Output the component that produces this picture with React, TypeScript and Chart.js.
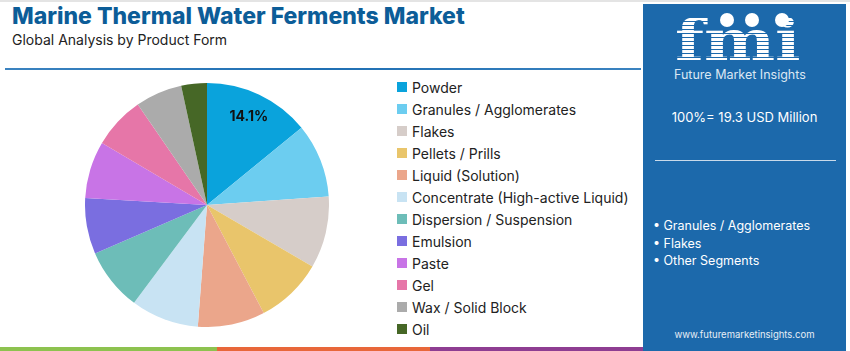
import React, { useEffect, useRef } from "react";
import { Chart, registerables } from "chart.js";

Chart.register(...registerables);

const categories = [
  "Powder",
  "Granules / Agglomerates",
  "Flakes",
  "Pellets / Prills",
  "Liquid (Solution)",
  "Concentrate (High-active Liquid)",
  "Dispersion / Suspension",
  "Emulsion",
  "Paste",
  "Gel",
  "Wax / Solid Block",
  "Oil",
];
const shares = [14.1, 9.8, 9.5, 8.9, 8.9, 9.0, 8.3, 7.4, 7.6, 6.9, 6.2, 3.4];
const colors = [
  "#0aa3dc",
  "#6ccdf0",
  "#d6cdc9",
  "#e9c56b",
  "#eba68b",
  "#c8e3f3",
  "#6dbdb8",
  "#7a6ee0",
  "#c874e6",
  "#e676a8",
  "#ababab",
  "#466726",
];
const labelledIndex = [0];
const bullets = ["Granules / Agglomerates", "Flakes", "Other Segments"];
const totalText = "100%= 19.3 USD Million";

const FONT = "Inter, 'Noto Sans', sans-serif";

const labelPlugin = {
  id: "sliceLabel",
  afterDatasetsDraw(chart: any) {
    const ctx = chart.ctx;
    const meta = chart.getDatasetMeta(0);
    labelledIndex.forEach((i) => {
      const arc = meta.data[i];
      const mid = (arc.startAngle + arc.endAngle) / 2;
      const r = arc.outerRadius * 0.8;
      const x = arc.x + Math.cos(mid) * r;
      const y = arc.y + Math.sin(mid) * r;
      ctx.save();
      ctx.fillStyle = "#111";
      ctx.font = `bold 14px ${FONT}`;
      ctx.textAlign = "center";
      ctx.textBaseline = "middle";
      ctx.fillText(shares[i].toFixed(1) + "%", x, y);
      ctx.restore();
    });
  },
};

export default function App() {
  const ref = useRef<HTMLCanvasElement>(null);
  useEffect(() => {
    if (!ref.current) return;
    const chart = new Chart(ref.current, {
      type: "pie",
      data: {
        labels: categories,
        datasets: [
          {
            data: shares,
            backgroundColor: colors,
            borderWidth: 0,
          },
        ],
      },
      options: {
        animation: false,
        responsive: false,
        maintainAspectRatio: false,
        layout: { padding: 0 },
        plugins: {
          legend: { display: false },
          tooltip: { enabled: false },
        },
      },
      plugins: [labelPlugin],
    });
    return () => chart.destroy();
  }, []);

  return (
    <div
      style={{
        position: "fixed",
        left: 0,
        top: 0,
        width: 850,
        height: 351,
        background: "#fff",
        overflow: "hidden",
        fontFamily: FONT,
      }}
    >
      <div style={{ position: "absolute", left: 0, top: 0, width: 850, height: 2, background: "#e4e4e4" }} />
      <div
        style={{
          position: "absolute",
          left: 12,
          top: 2,
          fontSize: 23,
          fontWeight: 800,
          color: "#0c5d98",
          whiteSpace: "nowrap",
        }}
      >
        Marine Thermal Water Ferments Market
      </div>
      <div style={{ position: "absolute", left: 12, top: 31, fontSize: 14, color: "#222", whiteSpace: "nowrap" }}>
        Global Analysis by Product Form
      </div>
      <div
        style={{
          position: "absolute",
          left: 5,
          top: 68,
          width: 636,
          height: 2,
          background: "linear-gradient(90deg,#3b83c0,#1f6fb3 50%,#3b83c0)",
        }}
      />
      <canvas ref={ref} width={244} height={244} style={{ position: "absolute", left: 85, top: 83, width: 244, height: 244 }} />
      <div style={{ position: "absolute", left: 397, top: 76 }}>
        {categories.map((c, i) => (
          <div key={c} style={{ display: "flex", alignItems: "center", height: 22 }}>
            <div style={{ width: 10, height: 10, background: colors[i], marginRight: 5 }} />
            <span style={{ fontSize: 14, color: "#222", whiteSpace: "nowrap" }}>{c}</span>
          </div>
        ))}
      </div>
      <div style={{ position: "absolute", left: 0, top: 347, width: 217, height: 4, background: "#8dc24f" }} />
      <div style={{ position: "absolute", left: 217, top: 347, width: 213, height: 4, background: "#e8673a" }} />
      <div style={{ position: "absolute", left: 430, top: 347, width: 214, height: 4, background: "#8e3d92" }} />
      <div
        style={{
          position: "absolute",
          left: 643,
          top: 4,
          width: 203,
          height: 347,
          background: "#1c69ab",
          color: "#fff",
        }}
      >
        <div
          style={{
            position: "absolute",
            left: 32,
            top: 11,
            fontSize: 56,
            fontWeight: 900,
            fontFamily: "'DejaVu Serif', serif",
            color: "#fff",
            lineHeight: "50px",
            height: 50,
            transform: "scaleX(1.2)",
            transformOrigin: "left top",
          }}
        >
          fmi
        </div>
        <div
          style={{
            position: "absolute",
            left: 28,
            top: 10,
            width: 135,
            height: 46,
            background: "repeating-linear-gradient(180deg, transparent 0 3px, #1c69ab 3px 4px)",
          }}
        />
        {[84, 109, 139].map((x) => (
          <div
            key={x}
            style={{
              position: "absolute",
              left: x - 7,
              top: 9,
              width: 14,
              height: 14,
              borderRadius: 7,
              background: "#fff",
            }}
          />
        ))}
        <div style={{ position: "absolute", left: 31, top: 63, fontSize: 12.5, color: "#dbe7f3", whiteSpace: "nowrap" }}>
          Future Market Insights
        </div>
        <div style={{ position: "absolute", left: 0, width: 203, top: 105, fontSize: 13, textAlign: "center", whiteSpace: "nowrap" }}>
          {totalText}
        </div>
        <div style={{ position: "absolute", left: 12, top: 156, width: 181, height: 1, background: "#c9daea" }} />
        <div style={{ position: "absolute", left: 10, top: 214 }}>
          {bullets.map((b) => (
            <div key={b} style={{ fontSize: 12.5, height: 17.5, whiteSpace: "nowrap" }}>
              • {b}
            </div>
          ))}
        </div>
        <div style={{ position: "absolute", left: 0, width: 203, top: 325, fontSize: 9.5, textAlign: "center", color: "#e6eef6" }}>
          www.futuremarketinsights.com
        </div>
      </div>
    </div>
  );
}
